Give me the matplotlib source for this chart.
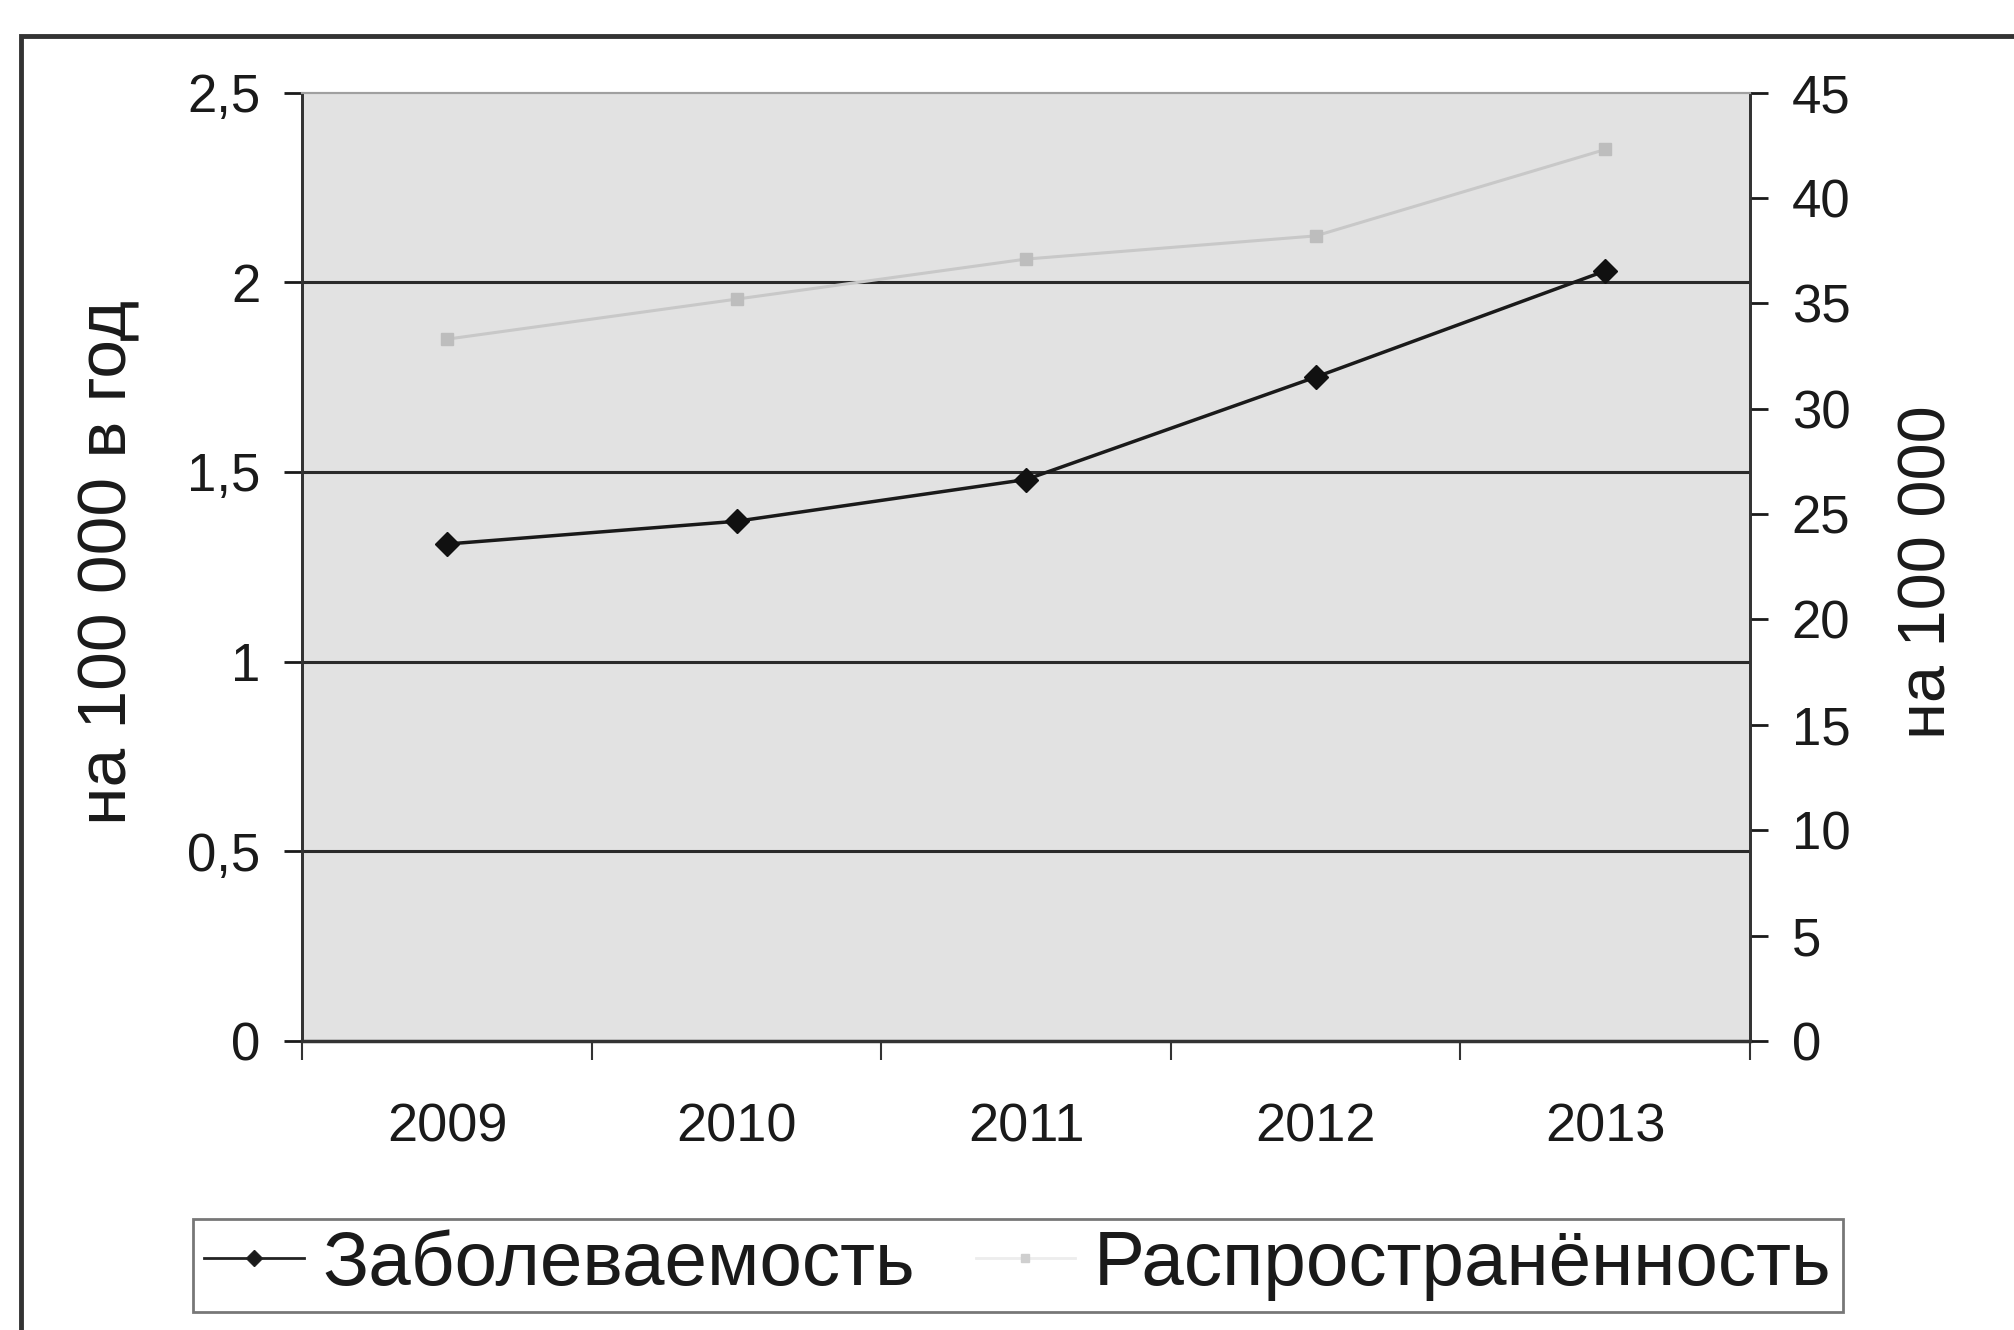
import numpy as np
import matplotlib.pyplot as plt
from matplotlib.lines import Line2D
from matplotlib.patches import Rectangle

plt.rcParams['font.family'] = ['Liberation Sans', 'DejaVu Sans']

years = ['2009', '2010', '2011', '2012', '2013']
incidence = [1.31, 1.37, 1.48, 1.75, 2.03]      # левая ось
prevalence = [33.3, 35.2, 37.1, 38.2, 42.3]     # правая ось

left_ticks = [0, 0.5, 1, 1.5, 2, 2.5]
left_labels = ['0', '0,5', '1', '1,5', '2', '2,5']
right_ticks = [0, 5, 10, 15, 20, 25, 30, 35, 40, 45]

fig = plt.figure(figsize=(20.15, 13.3), dpi=100)
ax = fig.add_axes([0.150, 0.2173, 0.7185, 0.7131])
ax2 = ax.twinx()

x = np.arange(len(years))

ax.set_facecolor('#e2e2e2')
ax.set_xlim(-0.5, len(years) - 0.5)
ax.set_ylim(0, 2.5)
ax2.set_ylim(0, 45)

for t in left_ticks[1:-1]:
    ax.axhline(t, color='#2a2a2a', lw=2.2, zorder=1)

ax2.plot(x, prevalence, color='#c8c8c8', lw=2.2, marker='s', ms=8,
         mfc='#bdbdbd', mec='#bdbdbd', zorder=3)
ax.plot(x, incidence, color='#1a1a1a', lw=2.5, marker='D', ms=12,
        mfc='#111111', mec='#111111', zorder=4)
ax.set_zorder(ax2.get_zorder() - 1)
ax2.patch.set_visible(False)

ax.set_yticks(left_ticks)
ax.set_yticklabels(left_labels)
ax2.set_yticks(right_ticks)

ax.set_xticks(np.arange(-0.5, len(years)), minor=False)
ax.set_xticklabels([])
ax.set_xticks(x, minor=True)
ax.set_xticklabels(years, minor=True)

ax.tick_params(axis='y', direction='out', length=13, width=2, pad=17,
               labelsize=38, colors='#1a1a1a')
ax2.tick_params(axis='y', direction='out', length=13, width=2, pad=17,
                labelsize=38, colors='#1a1a1a')
ax.tick_params(axis='x', which='major', direction='out', length=14, width=1.5,
               color='#333333')
ax.tick_params(axis='x', which='minor', length=0, pad=44, labelsize=39,
               labelcolor='#1a1a1a')

for a in (ax, ax2):
    a.spines['top'].set_color('#a0a0a0')
    a.spines['top'].set_linewidth(1.5)
    for s in ('left', 'right', 'bottom'):
        a.spines[s].set_color('#333333')
        a.spines[s].set_linewidth(2)
ax.spines['bottom'].set_linewidth(2.5)

fig.text(0.054, 0.577, 'на 100 000 в год', rotation=90, ha='center',
         va='center', fontsize=50, color='#1a1a1a')
fig.text(0.957, 0.57, 'на 100 000', rotation=90, ha='center',
         va='center', fontsize=48, color='#1a1a1a')

handles = [
    Line2D([], [], color='#222222', lw=2, marker='D', ms=8, mfc='#1a1a1a'),
    Line2D([], [], color='#ededed', lw=2, marker='s', ms=6,
           mfc='#cfcfcf', mec='#cfcfcf'),
]
leg = fig.legend(handles, ['Заболеваемость', 'Распространённость'],
                 loc='center', bbox_to_anchor=(0.0958, 0.0098, 0.819, 0.0774),
                 mode='expand', borderaxespad=0, ncol=2, fontsize=55,
                 frameon=True, fancybox=False, handlelength=1.3,
                 handletextpad=0.25, columnspacing=1.0, borderpad=0.15)
for t in leg.get_texts():
    t.set_color('#1a1a1a')
leg.get_frame().set_edgecolor('#555555')
leg.get_frame().set_linewidth(2)

# рамка скана
fig.patches.append(Rectangle((0.0105, -0.1), 1.2, 1.073, transform=fig.transFigure,
                             fill=False, edgecolor='#333333', lw=3.5))

fig.savefig('out.png', dpi=100)
